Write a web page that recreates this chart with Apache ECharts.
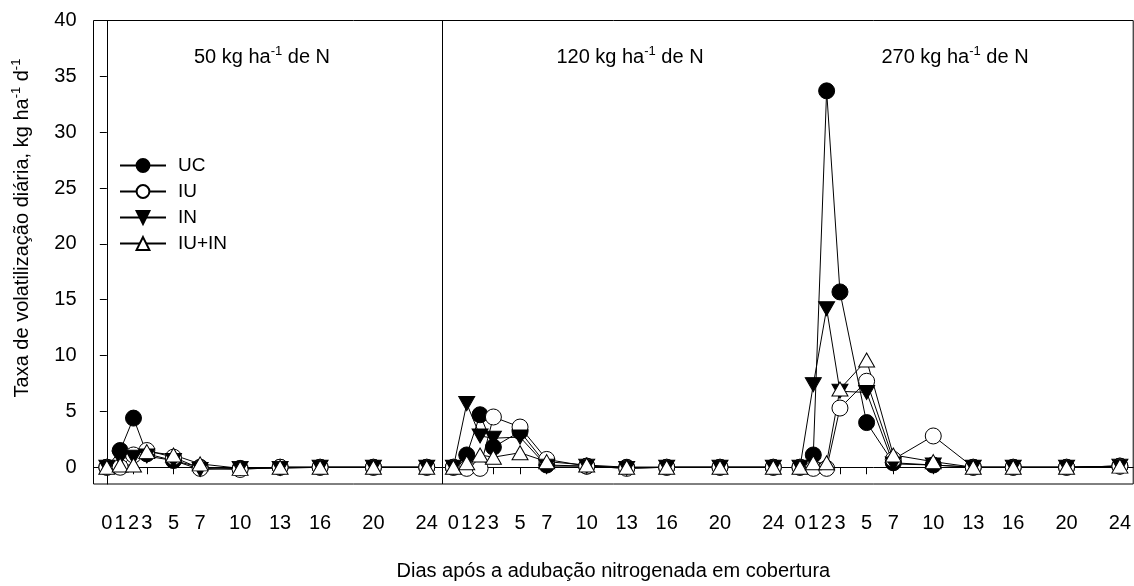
<!DOCTYPE html>
<html><head><meta charset="utf-8">
<script src="https://cdn.jsdelivr.net/npm/echarts@6/dist/echarts.min.js"></script>
<style>html,body{margin:0;padding:0;background:#fff}#c{width:1134px;height:586px}</style>
</head><body><div id="c"></div>
<script>
// ---- data ----
const days = [0, 1, 2, 3, 5, 7, 10, 13, 16, 20, 24];
const doseLabels = ['50', '120', '270'];
const seriesNames = ['UC', 'IU', 'IN', 'IU+IN'];
// values per dose panel (50, 120, 270 kg/ha N), one value per day
const UC_50   = [0, 1.5, 4.4, 1.2, 0.6, 0.0, -0.1, 0.0, 0.0, 0.0, 0.0];
const UC_120  = [0, 1.1, 4.7, 1.8, 3.2, 0.2, 0.1, 0.0, 0.0, 0.0, 0.0];
const UC_270  = [0, 1.1, 33.7, 15.7, 4.0, 0.4, 0.2, 0.0, 0.0, 0.0, 0.1];
const IU_50   = [0, 0.0, 1.1, 1.5, 0.9, -0.1, -0.2, 0.0, 0.0, 0.0, 0.0];
const IU_120  = [0, -0.1, -0.1, 4.5, 3.6, 0.7, 0.1, -0.1, 0.0, 0.0, 0.0];
const IU_270  = [0, -0.1, -0.1, 5.3, 7.7, 0.7, 2.8, 0.0, 0.0, 0.0, 0.1];
const IN_50   = [0, 0.8, 0.9, 1.0, 0.6, -0.2, -0.1, -0.1, 0.0, 0.0, 0.0];
const IN_120  = [0, 5.7, 2.8, 2.6, 2.7, 0.1, 0.1, -0.1, 0.0, 0.0, 0.0];
const IN_270  = [0, 7.4, 14.2, 6.8, 6.7, 0.3, 0.2, 0.0, 0.0, 0.0, 0.1];
const IUIN_50  = [0, 0.2, 0.2, 1.4, 1.1, 0.3, -0.1, 0.0, 0.0, 0.0, 0.0];
const IUIN_120 = [0, 0.4, 1.1, 0.9, 1.3, 0.5, 0.2, 0.0, 0.0, 0.0, 0.0];
const IUIN_270 = [0, 0.4, 0.4, 7.0, 9.6, 1.1, 0.5, 0.0, 0.0, 0.0, 0.1];
const yTicks = [0, 5, 10, 15, 20, 25, 30, 35, 40];

// ---- layout helpers ----
const SPAN = 26; // axis units per dose panel
const FONT = '"Liberation Sans", Arial, Helvetica, sans-serif';
function build(panelsVals) {
  const out = [];
  panelsVals.forEach((vals, p) => {
    vals.forEach((v, i) => out.push([p * SPAN + days[i], v]));
    if (p < panelsVals.length - 1) out.push([p * SPAN + 25, '-']);
  });
  return out;
}
const xTickVals = [];
doseLabels.forEach((_, p) => days.forEach(d => xTickVals.push(p * SPAN + d)));

function supRich(size, supSize) {
  return {
    n: { fontSize: size, fontFamily: FONT, color: '#000', lineHeight: size + 4 },
    s: { fontSize: supSize, fontFamily: FONT, color: '#000', lineHeight: size + 4, verticalAlign: 'top', padding: [0, 0, 7, 0] }
  };
}

const base = {
  type: 'line', symbolSize: 16, showSymbol: true, animation: false,
  lineStyle: { color: '#000', width: 1 },
  emphasis: { disabled: true }
};
const downTri = 'path://M0,0L10,0L5,9Z';
const series = [
  Object.assign({}, base, { name: 'UC', data: build([UC_50, UC_120, UC_270]), symbol: 'circle',
    itemStyle: { color: '#000', borderColor: '#000', borderWidth: 1 },
    markLine: { silent: true, symbol: 'none', label: { show: false },
      lineStyle: { color: '#000', width: 1, type: 'solid' }, data: [{ xAxis: 25.15 }] } }),
  Object.assign({}, base, { name: 'IU', data: build([IU_50, IU_120, IU_270]), symbol: 'circle',
    itemStyle: { color: '#fff', borderColor: '#000', borderWidth: 1 } }),
  Object.assign({}, base, { name: 'IN', data: build([IN_50, IN_120, IN_270]), symbol: downTri, symbolSize: [16, 14],
    itemStyle: { color: '#000', borderColor: '#000', borderWidth: 1 } }),
  Object.assign({}, base, { name: 'IU+IN', data: build([IUIN_50, IUIN_120, IUIN_270]), symbol: 'triangle', symbolSize: [16, 14],
    itemStyle: { color: '#fff', borderColor: '#000', borderWidth: 1 } })
];

const titleCenters = [262, 630, 955];
const graphics = doseLabels.map((d, p) => ({
  type: 'text', x: titleCenters[p], y: 57, silent: true,
  style: { text: '{n|' + d + ' kg ha}{s|-1}{n| de N}', rich: supRich(20, 13), align: 'center', verticalAlign: 'middle', fill: '#000' }
}));
graphics.push({
  type: 'text', x: 22, y: 228, rotation: Math.PI / 2, silent: true,
  style: { text: '{n|Taxa de volatilização diária, kg ha}{s|-1}{n| d}{s|-1}', rich: supRich(20, 13), align: 'center', verticalAlign: 'middle', fill: '#000' }
});

const chart = echarts.init(document.getElementById('c'), null, { renderer: 'canvas' });
chart.setOption({
  animation: false,
  backgroundColor: '#fff',
  grid: { left: 93.5, right: 0.5, top: 20.5, bottom: 101.5, show: true, borderColor: '#000', borderWidth: 1, containLabel: false },
  legend: {
    data: seriesNames, orient: 'vertical', left: 119, top: 156, padding: 0, itemWidth: 46, itemHeight: 16, itemGap: 7,
    selectedMode: false,
    textStyle: { fontSize: 19, lineHeight: 16, fontFamily: FONT, color: '#000', padding: [0, 0, 0, 7] }
  },
  xAxis: {
    type: 'value', min: -1, max: 77,
    name: 'Dias após a adubação nitrogenada em cobertura', nameLocation: 'middle', nameGap: 77,
    nameTextStyle: { fontSize: 20, fontFamily: FONT, color: '#000' },
    axisLine: { show: true, lineStyle: { color: '#000', width: 1 } },
    axisTick: { show: true, inside: false, length: 7, customValues: xTickVals, lineStyle: { color: '#000' } },
    axisLabel: { show: true, customValues: xTickVals, margin: 29, fontSize: 20, fontFamily: FONT, color: '#000',
      formatter: v => String(Math.round(v) % SPAN) },
    splitLine: { show: false }
  },
  yAxis: {
    type: 'value', min: -1.5, max: 40,
    axisLine: { show: true, lineStyle: { color: '#000', width: 1 } },
    axisTick: { show: true, inside: false, length: 7, customValues: yTicks, lineStyle: { color: '#000' } },
    axisLabel: { show: true, customValues: yTicks, margin: 17, fontSize: 20, fontFamily: FONT, color: '#000' },
    splitLine: { show: false }
  },
  graphic: graphics,
  series: series
});
</script></body></html>
